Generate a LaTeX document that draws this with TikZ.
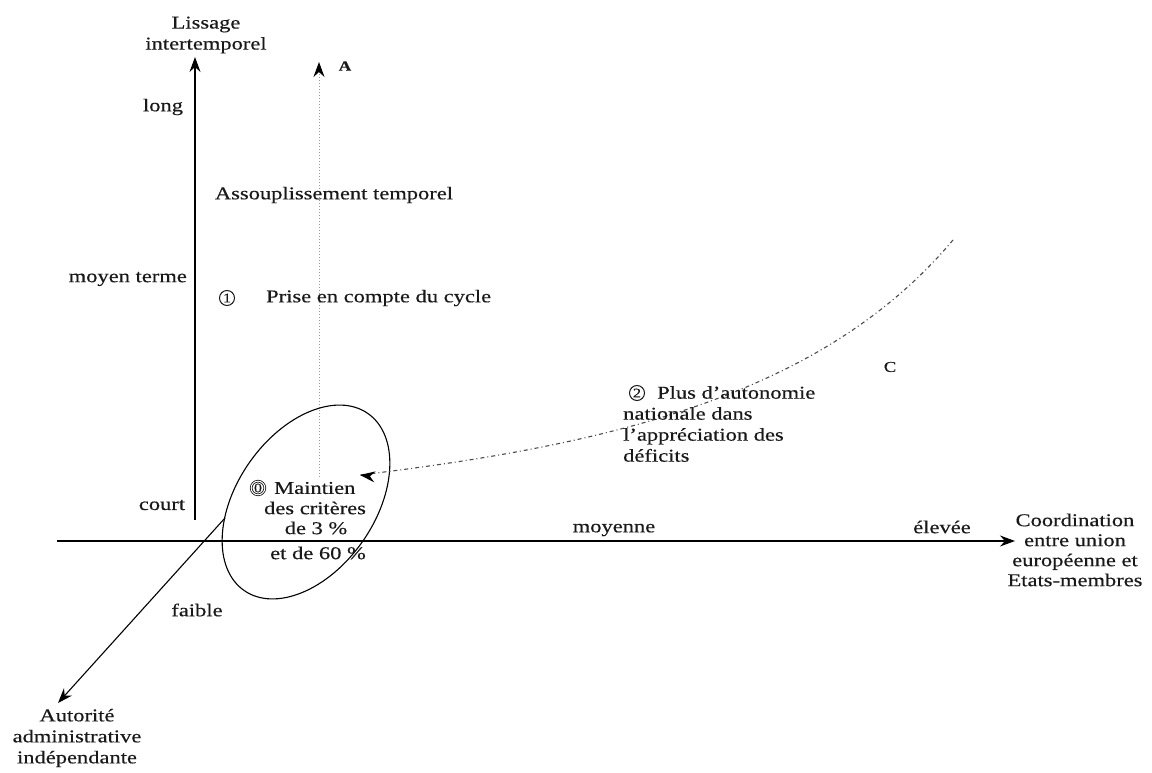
\documentclass[tikz,border=0pt]{standalone}
\usepackage{fontspec}
\setmainfont{Liberation Serif}[FakeStretch=1.25,FakeBold=0.4]
\usetikzlibrary{arrows.meta,calc}
\tikzset{
  axis/.style={line width=1.1pt, -{Stealth[length=15pt,width=11pt,inset=5pt]}},
  lbl/.style={font=\fontsize{18}{21}\selectfont, text=black!90, inner sep=0pt},
  circnum/.style={circle, draw=black!90, line width=1pt, inner sep=0.6pt, minimum size=15pt, font=\fontsize{13}{13}\selectfont, text=black!90},
  dotline/.style={gray!80, dotted, line width=1pt},
  dashdot/.style={gray!60!black, dash pattern=on 4pt off 3pt on 1pt off 3pt, line width=1.1pt},
}
\begin{document}
\begin{tikzpicture}[x=1pt,y=1pt]
\path[use as bounding box] (0,0) rectangle (1152,772);
% coordinates
\coordinate (vbot) at (195,252);
\coordinate (vtop) at (195,715);
\coordinate (hleft) at (57,231);
\coordinate (hright) at (1015,231);
\coordinate (dstart) at (225,254);
\coordinate (dtip) at (58,69);
\coordinate (abot) at (319,295);
\coordinate (atop) at (319,710);
\coordinate (cstart) at (953,532);
\coordinate (ctip) at (360,297);
% axes
\draw[axis] (vbot) -- (vtop);
\draw[axis] (hleft) -- (hright);
\draw[axis] (dstart) -- (dtip);
\draw[dotline, -{Stealth[black,length=15pt,width=11pt,inset=5pt]}] (abot) -- (atop);
% ellipse
\draw[line width=1.1pt, rotate around={-35:(306,270)}] (306,270) ellipse [x radius=69, y radius=108];
% curve
\draw[dashdot] (cstart) .. controls (823,377) and (610,327) .. (ctip);
\draw[line width=1.1pt, -{Stealth[length=15pt,width=11pt,inset=5pt]}] ($(ctip)+(4,-0.5)$) -- (ctip);
% labels
\node[lbl, align=center] (lis) at (206,737) {Lissage\\intertemporel};
\node[lbl] (A) at (345,706) {\fontsize{14}{15}\selectfont\bfseries A};
\node[lbl] (long) at (163,665) {long};
\node[lbl] (assoup) at (334,577) {Assouplissement temporel};
\node[lbl, anchor=east] (moyt) at (187,493) {moyen terme};
\node[circnum] (c1) at (227,474) {1};
\node[lbl, anchor=west] (prise) at (266,474) {Prise en compte du cycle};
\node[lbl] (court) at (162,267) {court};
\node[lbl] (moyenne) at (614,242) {moyenne};
\node[lbl] (elevee) at (942,245) {élevée};
\node[lbl, align=center, font=\fontsize{18}{20}\selectfont] (coord) at (1075,222) {Coordination\\entre union\\européenne et\\Etats-membres};
\node[lbl] (faible) at (197,162) {faible};
\node[lbl, align=center] (autor) at (77,34) {Autorité\\administrative\\indépendante};
\node[circnum, double, double distance=1pt, line width=0.8pt, minimum size=13pt] (c0) at (258,284) {0};
\node[lbl, anchor=west] (maint) at (274,284) {Maintien};
\node[lbl] (crit) at (315,264) {des critères};
\node[lbl] (trois) at (316,244) {de 3 \%};
\node[lbl] (soix) at (318,219) {et de 60 \%};
\node[lbl, align=left, anchor=west] (plus) at (623,348) {\hspace*{34pt}Plus d'autonomie\\nationale dans\\l'appréciation des\\déficits};
\node[circnum] (c2) at (637,379) {2};
\node[lbl] (C) at (890,405) {\fontsize{15}{16}\selectfont C};
\end{tikzpicture}
\end{document}
